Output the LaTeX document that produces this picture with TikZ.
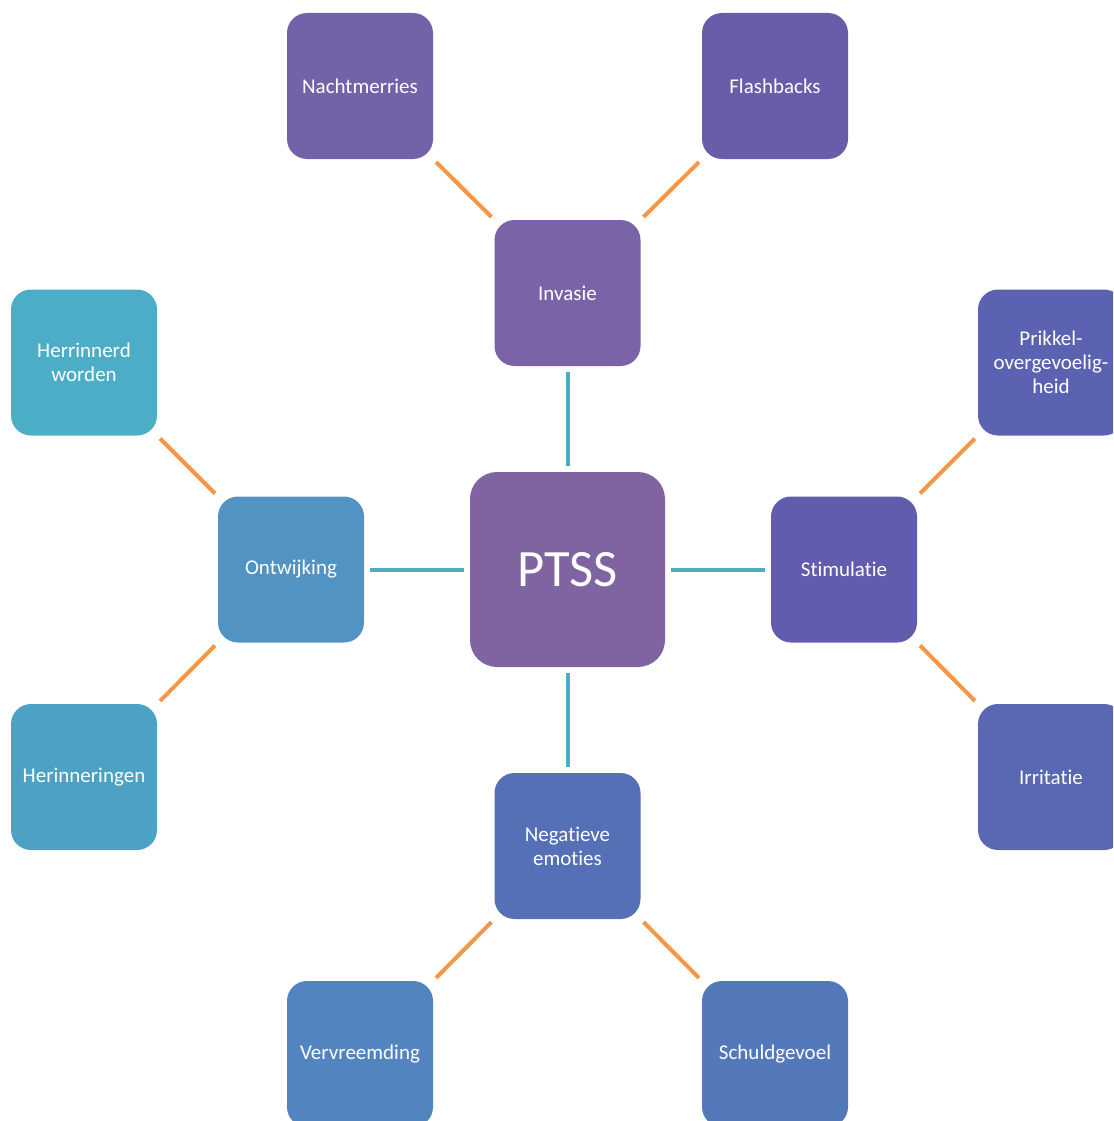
\documentclass[tikz,border=0pt]{standalone}
\usepackage{fontspec}
\setmainfont{Carlito}[Ligatures=NoCommon]
\definecolor{cPTSS}{HTML}{8064A2}
\definecolor{cNacht}{HTML}{7362A8}
\definecolor{cFlash}{HTML}{695DAA}
\definecolor{cInv}{HTML}{7A63A7}
\definecolor{cStim}{HTML}{615CAE}
\definecolor{cPrik}{HTML}{5B62B1}
\definecolor{cIrr}{HTML}{5A67B3}
\definecolor{cNeg}{HTML}{5670B7}
\definecolor{cSchuld}{HTML}{5479BB}
\definecolor{cVerv}{HTML}{5285BF}
\definecolor{cOntw}{HTML}{5193C2}
\definecolor{cHerin}{HTML}{4DA1C4}
\definecolor{cHerr}{HTML}{4CADC6}
\definecolor{teal}{HTML}{4BACC6}
\definecolor{orangeline}{HTML}{F79646}
\begin{document}
\begin{tikzpicture}[x=1pt,y=-1pt,
  box/.style={rectangle, rounded corners=20pt, minimum width=146pt, minimum height=146pt,
    inner sep=0pt, text=white, align=center, font=\fontsize{21}{24}\selectfont},
  bigbox/.style={rectangle, rounded corners=27pt, minimum width=195pt, minimum height=195pt,
    inner sep=0pt, text=white, font=\fontsize{52.5}{60}\selectfont},
  mainlink/.style={draw=teal, line width=4pt, shorten >=6pt, shorten <=6pt},
  sublink/.style={draw=orangeline, line width=4pt, shorten >=4pt, shorten <=4pt}]
\useasboundingbox (0,0) rectangle (1113,1121);
\clip (0,0) rectangle (1113,1121);
\node[bigbox, fill=cPTSS] (ptss) at (567.5,569.5) {PTSS};
\node[box, fill=cInv] (inv) at (567.5,293) {Invasie};
\node[box, fill=cOntw] (ontw) at (291,569.5) {Ontwijking};
\node[box, fill=cStim] (stim) at (844,569.5) {Stimulatie};
\node[box, fill=cNeg] (neg) at (567.5,846) {Negatieve\\emoties};
\node[box, fill=cNacht] (nacht) at (360,86) {Nachtmerries};
\node[box, fill=cFlash] (flash) at (775,86) {Flashbacks};
\node[box, fill=cHerr] (herr) at (84,362.5) {Herrinnerd\\worden};
\node[box, fill=cHerin] (herin) at (84,777) {Herinneringen};
\node[box, fill=cPrik] (prik) at (1051,362.5) {Prikkel-\\overgevoelig-\\heid};
\node[box, fill=cIrr] (irr) at (1051,777) {Irritatie};
\node[box, fill=cVerv] (verv) at (360,1054) {Vervreemding};
\node[box, fill=cSchuld] (schuld) at (775,1054) {Schuldgevoel};
\draw[mainlink] (ptss.north) -- (inv.south);
\draw[mainlink] (ptss.west) -- (ontw.east);
\draw[mainlink] (ptss.east) -- (stim.west);
\draw[mainlink] (ptss.south) -- (neg.north);
\draw[sublink] (inv.north west) -- (nacht.south east);
\draw[sublink] (inv.north east) -- (flash.south west);
\draw[sublink] (ontw.north west) -- (herr.south east);
\draw[sublink] (ontw.south west) -- (herin.north east);
\draw[sublink] (stim.north east) -- (prik.south west);
\draw[sublink] (stim.south east) -- (irr.north west);
\draw[sublink] (neg.south west) -- (verv.north east);
\draw[sublink] (neg.south east) -- (schuld.north west);
\end{tikzpicture}
\end{document}
